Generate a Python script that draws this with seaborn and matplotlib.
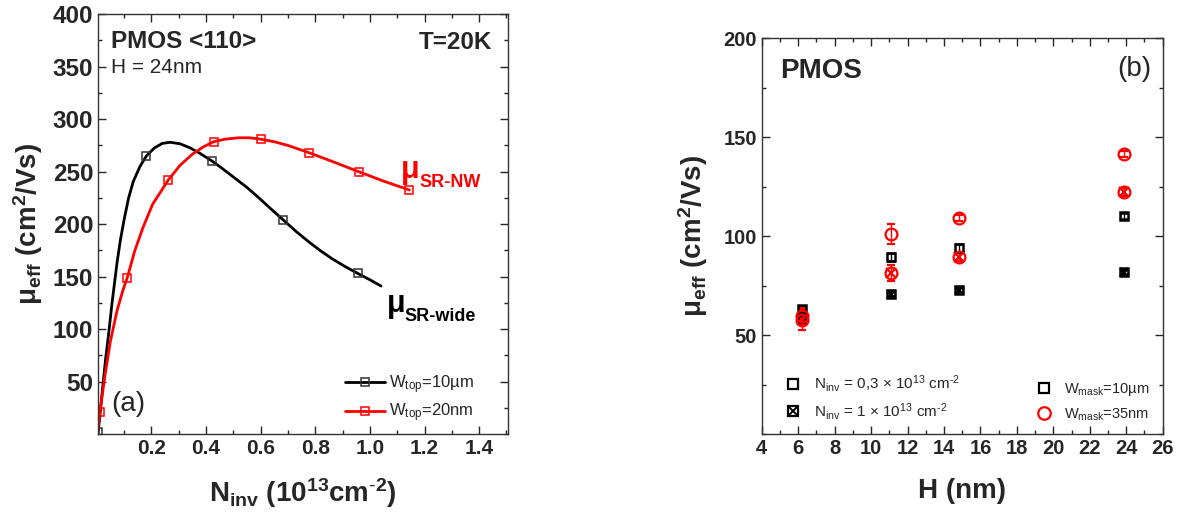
import numpy as np
import pandas as pd
import matplotlib
matplotlib.use("Agg")
import matplotlib.pyplot as plt
from matplotlib.lines import Line2D
from matplotlib.ticker import MultipleLocator
import seaborn as sns

# ---- panel (a): mobility vs N_inv, H = 24nm, T = 20K ----
# measured points
wide_n = [0.005, 0.182, 0.423, 0.683, 0.956]
wide_mu = [2, 265, 260, 204, 153]
nw_n = [0.012, 0.112, 0.262, 0.428, 0.60, 0.778, 0.959, 1.145]
nw_mu = [21, 149, 242, 278.5, 281, 268, 250, 232.5]

# fitted curves
wide_fit_n = [0.005, 0.012, 0.021, 0.033, 0.045, 0.055, 0.064, 0.075, 0.087, 0.101,
              0.117, 0.134, 0.158, 0.182, 0.211, 0.240, 0.269, 0.305, 0.341, 0.381,
              0.423, 0.46, 0.50, 0.55, 0.594, 0.64, 0.683, 0.73, 0.777, 0.82,
              0.862, 0.91, 0.956, 1.0, 1.041]
wide_fit_mu = [0, 18, 42, 72, 98, 122, 141, 164, 185, 205,
               225, 240.6, 254.7, 265, 272.5, 276.9, 278, 276.6, 272.8, 267,
               260, 253, 245, 235, 225, 214, 204, 193, 183, 174.5,
               167, 159.5, 153, 147, 141]
nw_fit_n = [0.005, 0.012, 0.03, 0.05, 0.075, 0.095, 0.112, 0.140, 0.170, 0.205,
            0.262, 0.305, 0.352, 0.393, 0.428, 0.47, 0.52, 0.56, 0.60, 0.65,
            0.70, 0.778, 0.87, 0.959, 1.05, 1.145]
nw_fit_mu = [4, 21, 55, 88, 118, 136, 149, 175, 197, 219,
             242, 256, 267, 274, 278.5, 281, 282.3, 282.3, 281, 278.5,
             275, 268, 259, 250, 241, 232.5]

# ---- panel (b): mobility vs H ----
H = [6.2, 11.1, 14.8, 23.9]
wide_low = [63, 89.5, 94, 110]        # W_mask=10um, N_inv=0.3e13
wide_low_err = [1.5, 2, 2, 1.5]
wide_high = [58.5, 70.5, 72.5, 82]    # W_mask=10um, N_inv=1e13
wide_high_err = [1, 1, 1, 1]
nw_low = [59.5, 101, 109, 141.5]      # W_mask=35nm, N_inv=0.3e13
nw_low_err = [4, 5, 1.5, 1.5]
nw_high = [57.5, 81.5, 89.5, 122]     # W_mask=35nm, N_inv=1e13
nw_high_err = [5, 4, 2, 2]

sns.set_style("ticks")
plt.rcParams['font.family'] = ['Liberation Sans', 'DejaVu Sans']
plt.rcParams['mathtext.fontset'] = 'custom'
plt.rcParams['mathtext.rm'] = 'Liberation Sans'
plt.rcParams['mathtext.bf'] = 'Liberation Sans:bold'
plt.rcParams['mathtext.it'] = 'Liberation Sans:italic'
plt.rcParams['mathtext.sf'] = 'Liberation Sans'

RED = '#ff0000'

fig = plt.figure(figsize=(11.81, 5.28), dpi=100)
ax1 = fig.add_axes([0.083, 0.178, 0.347, 0.795])
ax2 = fig.add_axes([0.645, 0.178, 0.3395, 0.75])

for ax in (ax1, ax2):
    ax.tick_params(which='both', direction='in', top=True, right=True, width=1)
    ax.tick_params(which='major', length=6)
    ax.tick_params(which='minor', length=3)
    for s in ax.spines.values():
        s.set_linewidth(1.0)
        s.set_color('#333333')

# ---------- (a) ----------
fit_a = pd.DataFrame({'n': wide_fit_n, 'mu': wide_fit_mu})
fit_b = pd.DataFrame({'n': nw_fit_n, 'mu': nw_fit_mu})
sns.lineplot(data=fit_a, x='n', y='mu', ax=ax1, color='black', lw=2, sort=False, estimator=None)
sns.lineplot(data=fit_b, x='n', y='mu', ax=ax1, color=RED, lw=2, sort=False, estimator=None)
ax1.plot(wide_n, wide_mu, ls='none', marker='s', ms=6, mfc='none', mec='#333333', mew=1.1)
ax1.plot(nw_n, nw_mu, ls='none', marker='s', ms=6, mfc='none', mec=RED, mew=1.1)

ax1.set_xlim(0.005, 1.505)
ax1.set_ylim(0, 400)
ax1.set_xticks([0.2, 0.4, 0.6, 0.8, 1.0, 1.2, 1.4])
ax1.set_xticklabels(['0.2', '0.4', '0.6', '0.8', '1.0', '1.2', '1.4'])
ax1.set_yticks([50, 100, 150, 200, 250, 300, 350, 400])
ax1.xaxis.set_minor_locator(MultipleLocator(0.1))
ax1.yaxis.set_minor_locator(MultipleLocator(25))
for lab in ax1.get_xticklabels():
    lab.set_fontsize(15)
    lab.set_fontweight('bold')
for lab in ax1.get_yticklabels():
    lab.set_fontsize(17.5)
    lab.set_fontweight('bold')

ax1.set_xlabel(r'N$_{\mathbf{inv}}$ (10$^{\mathbf{13}}$cm$^{\text{-}\mathbf{2}}$)', fontsize=20, fontweight='bold')
ax1.set_ylabel(r'μ$_{\mathbf{eff}}$ (cm$^{\mathbf{2}}$/Vs)', fontsize=20, fontweight='bold')
ax1.xaxis.set_label_coords(0.5, -0.1)
ax1.yaxis.set_label_coords(-0.13, 0.5)

ax1.text(0.032, 0.936, 'PMOS <110>', transform=ax1.transAxes, fontsize=17.5, fontweight='bold', va='center')
ax1.text(0.032, 0.874, 'H = 24nm', transform=ax1.transAxes, fontsize=15, va='center')
ax1.text(0.961, 0.933, 'T=20K', transform=ax1.transAxes, fontsize=17.5, fontweight='bold', va='center', ha='right')
ax1.text(0.052, 29, '(a)', fontsize=20, va='center')

ax1.text(1.115, 252, 'μ', color=RED, fontsize=22, fontweight='bold', va='center')
ax1.annotate('SR-NW', xy=(1.115, 252), xytext=(13, -9), textcoords='offset points',
             color=RED, fontsize=13, fontweight='bold', va='center')
ax1.text(1.062, 124, 'μ', color='black', fontsize=22, fontweight='bold', va='center')
ax1.annotate('SR-wide', xy=(1.062, 124), xytext=(13, -9), textcoords='offset points',
             color='black', fontsize=13, fontweight='bold', va='center')

h1 = Line2D([], [], color='black', lw=2, marker='s', ms=6, mfc='none', mec='#333333', mew=1.1)
h2 = Line2D([], [], color=RED, lw=2, marker='s', ms=6, mfc='none', mec=RED, mew=1.1)
ax1.legend([h1, h2], [r'W$_{\mathrm{top}}$=10µm', r'W$_{\mathrm{top}}$=20nm'],
           loc='lower right', bbox_to_anchor=(0.955, -0.012), frameon=False,
           fontsize=12, handlelength=2.4, handletextpad=0.25, labelspacing=0.35, numpoints=1)

# ---------- (b) ----------
ek = dict(capsize=3, elinewidth=1, capthick=1, ls='none')
ax2.errorbar(H, wide_low, yerr=wide_low_err, fmt='s', ms=6, mfc='none', mec='black', mew=1.8, ecolor='black', **ek)
ax2.errorbar(H, wide_high, yerr=wide_high_err, fmt='s', ms=6, mfc='none', mec='black', mew=1.8, ecolor='black', **ek)
ax2.plot(H, wide_high, ls='none', marker='x', ms=6, mec='black', mew=1.5)
ax2.errorbar(H, nw_low, yerr=nw_low_err, fmt='o', ms=8.5, mfc='none', mec=RED, mew=1.6, ecolor=RED, **ek)
ax2.errorbar(H, nw_high, yerr=nw_high_err, fmt='o', ms=8.5, mfc='none', mec=RED, mew=1.6, ecolor=RED, **ek)
ax2.plot(H, nw_high, ls='none', marker='x', ms=7, mec=RED, mew=1.6)

ax2.set_xlim(4, 26)
ax2.set_ylim(0, 200)
ax2.set_xticks(np.arange(4, 27, 2))
ax2.set_yticks([50, 100, 150, 200])
ax2.xaxis.set_minor_locator(MultipleLocator(1))
ax2.yaxis.set_minor_locator(MultipleLocator(25))
for lab in ax2.get_xticklabels() + ax2.get_yticklabels():
    lab.set_fontsize(14.5)
    lab.set_fontweight('bold')

ax2.set_xlabel('H (nm)', fontsize=20, fontweight='bold')
ax2.set_ylabel(r'μ$_{\mathbf{eff}}$ (cm$^{\mathbf{2}}$/Vs)', fontsize=20, fontweight='bold')
ax2.xaxis.set_label_coords(0.5, -0.11)
ax2.yaxis.set_label_coords(-0.13, 0.5)

ax2.text(0.045, 0.917, 'PMOS', transform=ax2.transAxes, fontsize=20, fontweight='bold', va='center')
ax2.text(0.973, 0.922, '(b)', transform=ax2.transAxes, fontsize=20, va='center', ha='right')

sq = Line2D([], [], ls='none', marker='s', ms=7, mfc='none', mec='black', mew=1.6)
xk = Line2D([], [], ls='none', marker='x', ms=7, mec='black', mew=1.4)
circ = Line2D([], [], ls='none', marker='o', ms=9, mfc='none', mec=RED, mew=1.6)
leg1 = ax2.legend([sq, (sq, xk)],
                  [r'N$_{\mathrm{inv}}$ = 0,3 × 10$^{\mathrm{13}}$ cm$^{\text{-2}}$',
                   r'N$_{\mathrm{inv}}$ = 1 × 10$^{\mathrm{13}}$ cm$^{\text{-2}}$'],
                  loc='lower left', bbox_to_anchor=(0.02, -0.005), frameon=False,
                  fontsize=11, handlelength=1.2, handletextpad=0.8, labelspacing=0.45)
ax2.add_artist(leg1)
ax2.legend([sq, circ], [r'W$_{\mathrm{mask}}$=10µm', r'W$_{\mathrm{mask}}$=35nm'],
           loc='lower right', bbox_to_anchor=(1.0, -0.005), frameon=False,
           fontsize=10.5, handlelength=1.2, handletextpad=0.8, labelspacing=0.55)

fig.savefig('out.png', dpi=100)
